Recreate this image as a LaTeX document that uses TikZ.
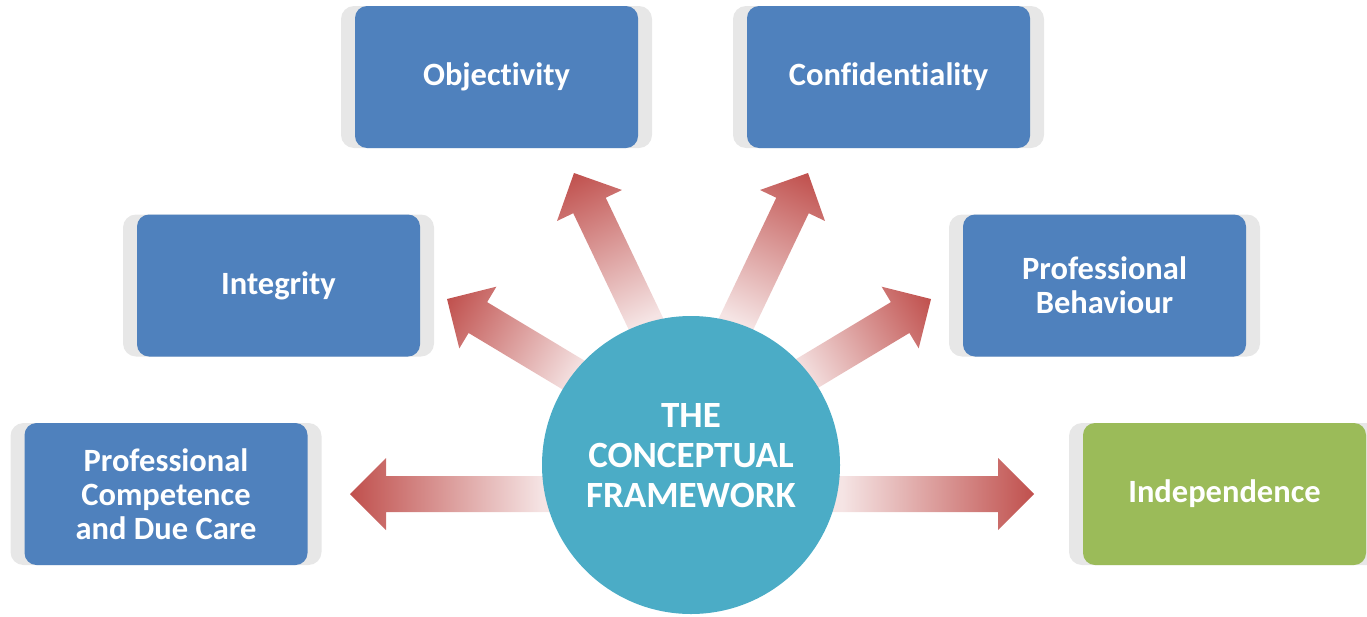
\documentclass[tikz,border=0pt]{standalone}
\usepackage{fontspec}
\setmainfont{Carlito}[Ligatures=NoCommon]
\definecolor{boxblue}{HTML}{4F81BD}
\definecolor{boxgreen}{HTML}{9BBB59}
\definecolor{backgray}{HTML}{E7E7E7}
\definecolor{circteal}{HTML}{4BACC6}
\definecolor{arrowdark}{HTML}{C0504D}
\definecolor{arrowpale}{HTML}{F5E4E4}
\pgfdeclarehorizontalshading{arrowgrad}{100bp}{color(0bp)=(arrowpale); color(34bp)=(arrowpale); color(75bp)=(arrowdark); color(100bp)=(arrowdark)}
\newcommand{\gradarrow}[3]{%
  \begin{scope}[transform canvas={shift={(#1)},rotate=#2}]
    \shade[shading=arrowgrad] (-#3,-18) -- (-36,-18) -- (-36,-36) -- (0,0) -- (-36,36) -- (-36,18) -- (-#3,18) -- cycle;
  \end{scope}}
\begin{document}
\begin{tikzpicture}[x=1pt,y=1pt,
  backbox/.style={fill=backgray, rounded corners=13pt, minimum width=311pt, minimum height=142pt, inner sep=0pt},
  mainbox/.style={fill=boxblue, rounded corners=12pt, minimum width=283pt, minimum height=142pt, inner sep=0pt,
    text=white, align=center, font=\bfseries\fontsize{32.5}{34}\selectfont},
  greenbox/.style={mainbox, fill=boxgreen},
  hub/.style={circle, fill=circteal, minimum size=298pt, inner sep=0pt}]
\useasboundingbox (0,0) rectangle (1367,-616);
% arrow tips
\coordinate (tObj) at (574,-173);
\coordinate (tConf) at (808,-173);
\coordinate (tInt) at (447,-299);
\coordinate (tPB) at (931,-299);
\coordinate (tPC) at (350,-494);
\coordinate (tInd) at (1034,-494);
\gradarrow{tObj}{115.5}{200}
\gradarrow{tConf}{64.5}{200}
\gradarrow{tInt}{149}{185}
\gradarrow{tPB}{31}{185}
\gradarrow{tPC}{180}{234}
\gradarrow{tInd}{0}{234}
% hub
\node[hub] (fw) at (691,-465) {};
\node[text=white, align=center, font=\bfseries\fontsize{37}{40}\selectfont] (fwt) at (691,-456) {THE\\CONCEPTUAL\\FRAMEWORK};
% boxes
\node[backbox] (objB) at (496.5,-77) {};
\node[mainbox] (obj) at (496.5,-77) {Objectivity};
\node[backbox] (confB) at (888.5,-77) {};
\node[mainbox] (conf) at (888.5,-77) {Confidentiality};
\node[backbox] (intB) at (278.5,-285.5) {};
\node[mainbox] (int) at (278.5,-285.5) {Integrity};
\node[backbox] (pbB) at (1104.5,-285.5) {};
\node[mainbox] (pb) at (1104.5,-285.5) {Professional\\Behaviour};
\node[backbox] (pcB) at (166,-494) {};
\node[mainbox] (pc) at (166,-494) {Professional\\Competence\\and Due Care};
\node[backbox] (indB) at (1224.5,-494) {};
\node[greenbox] (ind) at (1224.5,-494) {Independence};
\end{tikzpicture}
\end{document}
